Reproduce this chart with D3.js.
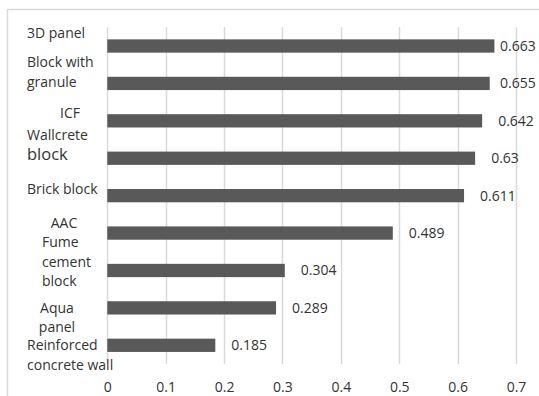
<!DOCTYPE html>
<html>
<head>
<meta charset="utf-8">
<script src="https://cdn.jsdelivr.net/npm/d3@7"></script>
<style>
  html, body { margin: 0; padding: 0; background: #fff; }
  svg { display: block; }
  text { font-family: "Open Sans", "Liberation Sans", sans-serif; fill: #333333; }
</style>
</head>
<body>
<svg id="chart" width="539" height="396"></svg>
<script>
// Materials, top to bottom
const categories = [
  "3D panel",
  "Block with granule",
  "ICF",
  "Wallcrete block",
  "Brick block",
  "AAC",
  "Fume cement block",
  "Aqua panel",
  "Reinforced concrete wall"
];
const values = [0.663, 0.655, 0.642, 0.63, 0.611, 0.489, 0.304, 0.289, 0.185];
const valueLabels = ["0.663", "0.655", "0.642", "0.63", "0.611", "0.489", "0.304", "0.289", "0.185"];
const ticks = [0, 0.1, 0.2, 0.3, 0.4, 0.5, 0.6, 0.7];

// How each category name is broken into lines and placed beside its bar
const labelLayout = [
  { lines: ["3D panel"], dy: -13, x: 27, anchor: "start" },
  { lines: ["Block with", "granule"], dy: -21, x: 27, anchor: "start" },
  { lines: ["ICF"], dy: -8, x: 70, anchor: "middle" },
  { lines: ["Wallcrete", "block"], dy: -23.5, x: 27, anchor: "start", big: [false, true] },
  { lines: ["Brick block"], dy: -7, x: 27, anchor: "start" },
  { lines: ["AAC"], dy: -10, x: 64, anchor: "middle" },
  { lines: ["Fume", "cement", "block"], dy: -28, x: 42, anchor: "start" },
  { lines: ["Aqua", "panel"], dy: 0, x: 57, anchor: "middle" },
  { lines: ["Reinforced", "concrete wall"], dy: 0, x: 27, anchor: "start" }
];

const svg = d3.select("#chart");
const W = 539, H = 396;
const plot = { left: 107.3, right: 516, top: 27.3, bottom: 364 };
const lineH = 19.5;

// Chart frame
svg.append("rect")
  .attr("x", 7.5).attr("y", 9.5)
  .attr("width", W).attr("height", H)
  .attr("fill", "none").attr("stroke", "#d9d9d9").attr("stroke-width", 1.5);

const x = d3.scaleLinear().domain([0, 0.7]).range([plot.left, plot.right]);
const y = d3.scaleBand().domain(categories)
  .range([plot.top, plot.bottom])
  .paddingInner(0.645).paddingOuter(0.3225);

// Vertical gridlines
svg.append("g").selectAll("line").data(ticks).join("line")
  .attr("x1", d => Math.round(x(d)) + 0.5).attr("x2", d => Math.round(x(d)) + 0.5)
  .attr("y1", plot.top).attr("y2", plot.bottom)
  .attr("stroke", "#d9d9d9").attr("stroke-width", 1.5);

// Bottom axis tick labels
const axis = d3.axisBottom(x).tickValues(ticks).tickSize(0).tickPadding(0)
  .tickFormat(d => d3.format("")(+d.toFixed(1)));
const gAxis = svg.append("g").attr("transform", `translate(0,${plot.bottom + 18})`).call(axis);
gAxis.select(".domain").remove();
gAxis.selectAll("text")
  .attr("font-size", 14).attr("fill", "#333333")
  .style("font-family", "'Open Sans', sans-serif")
  .attr("dy", "0.71em").attr("y", 0);

// Bars
svg.append("g").selectAll("rect").data(categories).join("rect")
  .attr("x", x(0))
  .attr("y", d => y(d))
  .attr("width", (d, i) => x(values[i]) - x(0))
  .attr("height", y.bandwidth())
  .attr("fill", "#595959");

// Value labels at bar ends, kept inside the frame
svg.append("g").selectAll("text").data(categories).join("text")
  .attr("x", (d, i) => Math.min(x(values[i]) + 16, 500))
  .attr("y", d => y(d) + y.bandwidth() / 2)
  .attr("dy", "0.35em")
  .attr("font-size", 14)
  .text((d, i) => valueLabels[i]);

// Category labels
const gCat = svg.append("g");
categories.forEach((c, i) => {
  const L = labelLayout[i];
  const cy = y(c) + y.bandwidth() / 2 + L.dy;
  L.lines.forEach((t, k) => {
    gCat.append("text")
      .attr("x", L.x)
      .attr("y", cy + k * lineH)
      .attr("dy", "0.35em")
      .attr("text-anchor", L.anchor)
      .attr("font-size", L.big && L.big[k] ? 16.5 : 14)
      .text(t);
  });
});
</script>
</body>
</html>
